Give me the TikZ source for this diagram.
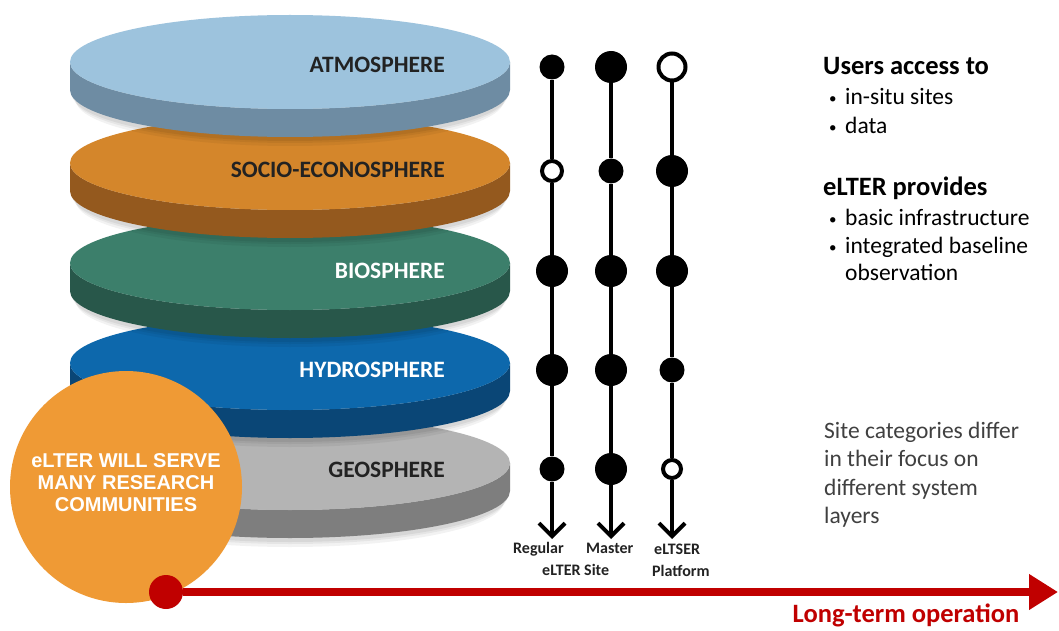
\documentclass[tikz,border=0pt]{standalone}
\usepackage{fontspec}
\setmainfont{Carlito}
\newfontfamily\arialfont{Liberation Sans}
\usetikzlibrary{arrows.meta}
\definecolor{atmTop}{HTML}{9DC3DD}
\definecolor{atmSide}{HTML}{6E8CA3}
\definecolor{socTop}{HTML}{D4862B}
\definecolor{socSide}{HTML}{94591E}
\definecolor{bioTop}{HTML}{3C7F6B}
\definecolor{bioSide}{HTML}{28574A}
\definecolor{hydTop}{HTML}{0D68AC}
\definecolor{hydSide}{HTML}{0A4676}
\definecolor{geoTop}{HTML}{B4B4B4}
\definecolor{geoSide}{HTML}{7E7E7E}
\definecolor{circOrange}{HTML}{EF9A35}
\definecolor{eltRed}{HTML}{C00000}
\definecolor{txtDark}{HTML}{222222}
\definecolor{txtGray}{HTML}{404040}
\newcommand\eltdisk[3]{%
  \fill[black,opacity=0.05] (290,-#1-38) ellipse[x radius=214, y radius=46];
  \fill[black,opacity=0.05] (290,-#1-35) ellipse[x radius=216, y radius=46];
  \fill[black,opacity=0.06] (290,-#1-32) ellipse[x radius=218, y radius=47];
  \fill[#3] (70,-#1) -- (70,-#1-28) arc[start angle=180,end angle=360,x radius=220,y radius=47]
     -- (510,-#1) arc[start angle=0,end angle=-180,x radius=220,y radius=47] -- cycle;
  \fill[#2] (290,-#1) ellipse[x radius=220,y radius=47];
}
\tikzset{
  disklabel/.style={anchor=base east,inner sep=0,font=\bfseries\fontsize{23.5}{28}\selectfont},
  bigdot/.style={circle,fill=black,minimum size=32pt,inner sep=0},
  meddot/.style={circle,fill=black,minimum size=25pt,inner sep=0},
  opendot/.style={circle,draw=black,line width=4pt,fill=white,inner sep=0},
  vline/.style={line width=4pt,black},
  varrow/.style={line width=4pt,black,-{Straight Barb[length=13pt,width=26pt]}},
  sitelabel/.style={anchor=base west,inner sep=0,text=txtDark,font=\bfseries\fontsize{16}{19}\selectfont},
  headtext/.style={anchor=base west,inner sep=0,text=black,font=\bfseries\fontsize{26.5}{30}\selectfont},
  bodytext/.style={anchor=base west,inner sep=0,text=black,font=\fontsize{23.5}{28}\selectfont},
  bullettext/.style={anchor=base west,inner sep=0,text=black,font=\fontsize{15}{18}\selectfont},
  graytext/.style={anchor=base west,inner sep=0,text=txtGray,font=\fontsize{23.5}{28}\selectfont},
}
\begin{document}
\begin{tikzpicture}[x=1pt,y=1pt]
\useasboundingbox (0,0) rectangle (1059,-631);
\fill[white] (0,0) rectangle (1059,-631);
% disks, bottom to top
\eltdisk{463}{geoTop}{geoSide}
\eltdisk{363}{hydTop}{hydSide}
\eltdisk{263}{bioTop}{bioSide}
\eltdisk{163}{socTop}{socSide}
\eltdisk{62}{atmTop}{atmSide}
\node[disklabel,text=txtDark] (latm) at (445,-73) {ATMOSPHERE};
\node[disklabel,text=txtDark] (lsoc) at (445,-178) {SOCIO-ECONOSPHERE};
\node[disklabel,text=white] (lbio) at (445,-278) {BIOSPHERE};
\node[disklabel,text=white] (lhyd) at (445,-377) {HYDROSPHERE};
\node[disklabel,text=txtDark] (lgeo) at (445,-477) {GEOSPHERE};
% orange circle
\node[circle,fill=circOrange,minimum size=232pt,inner sep=0] (serve) at (126,-487) {};
\node[align=center,inner sep=0,text=white,font=\arialfont\bfseries\fontsize{20}{22}\selectfont] (servetext) at (126,-483)
  {eLTER WILL SERVE\\MANY RESEARCH\\COMMUNITIES};
% dots: Regular
\node[meddot] (r1) at (552,-67) {};
\node[opendot,minimum size=20pt] (r2) at (552,-171) {};
\node[bigdot] (r3) at (552,-271) {};
\node[bigdot] (r4) at (552,-370) {};
\node[meddot] (r5) at (552,-469) {};
\coordinate (rend) at (552,-539);
% Master
\node[bigdot] (m1) at (611,-67) {};
\node[meddot] (m2) at (611,-171) {};
\node[bigdot] (m3) at (611,-271) {};
\node[bigdot] (m4) at (611,-370) {};
\node[bigdot] (m5) at (611,-469) {};
\coordinate (mend) at (611,-539);
% eLTSER
\node[opendot,minimum size=27pt] (e1) at (672,-67) {};
\node[bigdot] (e2) at (672,-171) {};
\node[bigdot] (e3) at (672,-271) {};
\node[meddot] (e4) at (672,-370) {};
\node[opendot,minimum size=18pt] (e5) at (672,-469) {};
\coordinate (eend) at (672,-539);
\draw[vline] (r1) -- (r2) -- (r3) -- (r4) -- (r5);
\draw[varrow] (r5) -- (rend);
\draw[vline] (m1) -- (m2) -- (m3) -- (m4) -- (m5);
\draw[varrow] (m5) -- (mend);
\draw[vline] (e1) -- (e2) -- (e3) -- (e4) -- (e5);
\draw[varrow] (e5) -- (eend);
% column labels
\node[sitelabel] (lreg) at (513,-553) {Regular};
\node[sitelabel] (lmas) at (586,-553) {Master};
\node[sitelabel] (lelt) at (654,-554) {eLTSER};
\node[sitelabel] (lsite) at (542,-575) {eLTER Site};
\node[sitelabel] (lplat) at (652,-576) {Platform};
% right texts
\node[headtext] (users) at (823,-75) {Users access to};
\node[bullettext] (b1) at (829,-104) {•};
\node[bodytext] (t1) at (845,-105) {in-situ sites};
\node[bullettext] (b2) at (829,-133) {•};
\node[bodytext] (t2) at (845,-134) {data};
\node[headtext] (prov) at (823,-195) {eLTER provides};
\node[bullettext] (b3) at (829,-224) {•};
\node[bodytext] (t3) at (845,-225) {basic infrastructure};
\node[bullettext] (b4) at (829,-252) {•};
\node[bodytext] (t4) at (845,-253) {integrated baseline};
\node[bodytext] (t5) at (845,-280) {observation};
\node[graytext] (s1) at (824,-438) {Site categories differ};
\node[graytext] (s2) at (824,-466.5) {in their focus on};
\node[graytext] (s3) at (824,-495) {different system};
\node[graytext] (s4) at (824,-523.5) {layers};
% timeline
\node[circle,fill=eltRed,minimum size=34pt,inner sep=0] (start) at (166,-592) {};
\coordinate (tend) at (1058,-592);
\draw[eltRed,line width=8pt,-{Triangle[length=29pt,width=34pt]}] (start) -- (tend);
\node[anchor=base,inner sep=0,text=eltRed,font=\bfseries\fontsize{26.5}{30}\selectfont] (longterm) at (906,-622) {Long-term operation};
\end{tikzpicture}
\end{document}
